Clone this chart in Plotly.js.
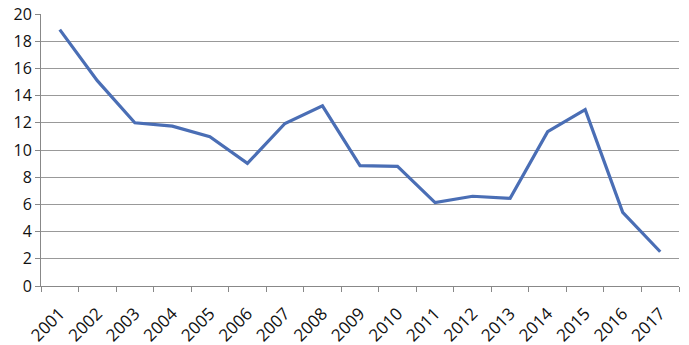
<!DOCTYPE html>
<html>
<head>
<meta charset="utf-8">
<script src="https://cdn.plot.ly/plotly-3.0.1.min.js"></script>
<style>html,body{margin:0;padding:0;background:#fff;}#chart{width:689px;height:345px;}</style>
</head>
<body>
<div id="chart"></div>
<script>
const years = ["2001","2002","2003","2004","2005","2006","2007","2008","2009","2010","2011","2012","2013","2014","2015","2016","2017"];
const values = [18.85, 15.1, 12.0, 11.75, 10.97, 9.02, 11.95, 13.25, 8.85, 8.8, 6.13, 6.6, 6.45, 11.35, 12.97, 5.42, 2.52];
const yTicks = [0, 2, 4, 6, 8, 10, 12, 14, 16, 18, 20];

Plotly.newPlot('chart', [{
  x: years,
  y: values,
  type: 'scatter',
  mode: 'lines',
  line: {color: '#4a6eb5', width: 3.2},
  hoverinfo: 'none'
}], {
  width: 689, height: 345,
  margin: {l: 41, r: 10, t: 14, b: 59},
  paper_bgcolor: '#fff', plot_bgcolor: '#fff',
  showlegend: false,
  font: {family: 'Open Sans, sans-serif', size: 15, color: '#111'},
  xaxis: {
    type: 'category',
    range: [-0.5, 16.5],
    tickangle: -45,
    tickson: 'boundaries',
    ticks: 'outside', ticklen: 5, tickcolor: '#888', tickwidth: 1,
    ticklabelstandoff: 10,
    showline: true, linecolor: '#888', linewidth: 1,
    showgrid: false,
    tickfont: {size: 17, color: '#111'},
    fixedrange: true
  },
  yaxis: {
    range: [0, 20],
    tickvals: yTicks,
    ticktext: yTicks.map(String),
    ticks: 'outside', ticklen: 5, tickcolor: '#888', tickwidth: 1,
    showline: true, linecolor: '#888', linewidth: 1,
    showgrid: true, gridcolor: '#999999', gridwidth: 1,
    zeroline: false,
    tickfont: {size: 16, color: '#111'},
    fixedrange: true
  }
}, {displayModeBar: false, staticPlot: true});
</script>
</body>
</html>
